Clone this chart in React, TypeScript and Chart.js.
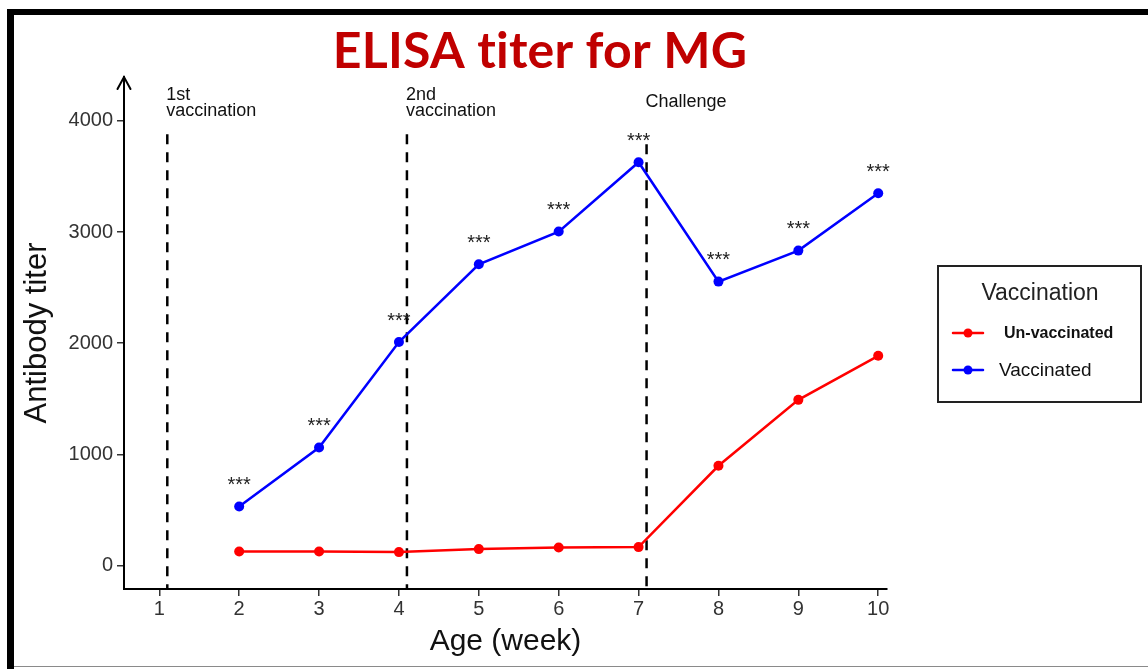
import React, { useEffect, useRef } from 'react';
import { Chart, registerables } from 'chart.js';

Chart.register(...registerables);

// ---- data ----
const weeks = [2, 3, 4, 5, 6, 7, 8, 9, 10];
const unvaccinated = [125, 125, 120, 147, 162, 165, 897, 1490, 1886];
const vaccinated = [531, 1061, 2010, 2710, 3004, 3628, 2554, 2833, 3349];
const significance = ['***', '***', '***', '***', '***', '***', '***', '***', '***'];
const xTicks = [1, 2, 3, 4, 5, 6, 7, 8, 9, 10];
const yTicks = [0, 1000, 2000, 3000, 4000];
const eventWeeks = [1.1, 4.1, 7.1];
const eventTops = [3880, 3880, 3790];
const eventLabels = [['1st', 'vaccination'], ['2nd', 'vaccination'], ['Challenge']];
const seriesNames = ['Un-vaccinated', 'Vaccinated'];
const seriesColors = ['#FF0000', '#0000FF'];
const titleText = 'ELISA titer for MG';
const legendTitle = 'Vaccination';
const xTitle = 'Age (week)';
const yTitle = 'Antibody titer';

const FONT = '"Liberation Sans", Arial, sans-serif';

export default function App() {
  const ref = useRef<HTMLCanvasElement>(null);

  useEffect(() => {
    document.body.style.margin = '0';
    const canvas = ref.current!;

    const framePlugin = {
      id: 'frame',
      beforeDraw(chart: any) {
        const ctx = chart.ctx;
        ctx.save();
        ctx.fillStyle = '#ffffff';
        ctx.fillRect(0, 0, chart.width, chart.height);
        ctx.fillStyle = '#000000';
        ctx.fillRect(7, 9, chart.width - 7, 6);
        ctx.fillRect(7, 9, 7, chart.height - 9);
        ctx.fillStyle = '#8a8a8a';
        ctx.fillRect(14, 666, chart.width - 14, 1);
        ctx.restore();
      },
    };

    const annotPlugin = {
      id: 'annot',
      afterDraw(chart: any) {
        const { ctx, chartArea, scales } = chart;
        const xs = scales.x;
        ctx.save();

        // title (letter spacing disables the "ti" ligature)
        ctx.fillStyle = '#C00000';
        ctx.font = 'bold 50px Lato, "Liberation Sans", sans-serif';
        ctx.textAlign = 'center';
        ctx.textBaseline = 'alphabetic';
        (ctx as any).letterSpacing = '0.2px';
        ctx.fillText(titleText, 540, 68);
        (ctx as any).letterSpacing = '0px';

        // arrow head on y axis
        ctx.strokeStyle = '#000';
        ctx.lineWidth = 2;
        ctx.lineCap = 'round';
        ctx.beginPath();
        ctx.moveTo(chartArea.left - 6.5, chartArea.top + 12);
        ctx.lineTo(chartArea.left, chartArea.top);
        ctx.lineTo(chartArea.left + 6.5, chartArea.top + 12);
        ctx.stroke();

        // event labels
        ctx.fillStyle = '#111';
        ctx.font = `18px ${FONT}`;
        ctx.textAlign = 'left';
        eventWeeks.forEach((w, i) => {
          const x = xs.getPixelForValue(w);
          const lines = eventLabels[i];
          const lastBase = chartArea.top + (lines.length > 1 ? 39 : 30);
          lines.forEach((t, j) => {
            ctx.fillText(t, x - 1, lastBase - (lines.length - 1 - j) * 16.5);
          });
        });

        // significance stars
        const meta = chart.getDatasetMeta(1);
        ctx.fillStyle = '#222';
        ctx.font = `20px ${FONT}`;
        ctx.textAlign = 'center';
        meta.data.forEach((pt: any, i: number) => {
          ctx.fillText(significance[i], pt.x, pt.y - 15.5);
        });

        // legend
        ctx.strokeStyle = '#222';
        ctx.lineWidth = 2;
        ctx.strokeRect(938, 266, 203, 136);
        ctx.fillStyle = '#222';
        ctx.font = `23px ${FONT}`;
        ctx.textAlign = 'center';
        ctx.fillText(legendTitle, 1040, 300);
        const itemY = [333, 370];
        seriesNames.forEach((name, i) => {
          const y = itemY[i];
          ctx.strokeStyle = seriesColors[i];
          ctx.lineWidth = 2.5;
          ctx.beginPath();
          ctx.moveTo(953, y);
          ctx.lineTo(983, y);
          ctx.stroke();
          ctx.fillStyle = seriesColors[i];
          ctx.beginPath();
          ctx.arc(968, y, 4.5, 0, Math.PI * 2);
          ctx.fill();
          ctx.fillStyle = '#111';
          ctx.textAlign = 'left';
          ctx.textBaseline = 'middle';
          if (i === 0) {
            ctx.font = `bold 16px ${FONT}`;
            ctx.fillText(name, 1004, y + 1);
          } else {
            ctx.font = `19px ${FONT}`;
            ctx.fillText(name, 999, y + 1);
          }
        });
        ctx.restore();
      },
    };

    const seriesData = [unvaccinated, vaccinated];
    const datasets: any[] = seriesNames.map((name, i) => ({
      label: name,
      data: weeks.map((w, j) => ({ x: w, y: seriesData[i][j] })),
      borderColor: seriesColors[i],
      backgroundColor: seriesColors[i],
      borderWidth: 2.5,
      pointRadius: 5,
      pointBorderWidth: 0,
      tension: 0,
    }));
    eventWeeks.forEach((w, i) => {
      datasets.push({
        label: 'event' + i,
        data: [
          { x: w, y: eventTops[i] },
          { x: w, y: -212 },
        ],
        borderColor: '#000',
        borderWidth: 2.5,
        borderDash: [10, 8],
        pointRadius: 0,
      });
    });

    const chart = new Chart(canvas, {
      type: 'line',
      data: { datasets },
      plugins: [framePlugin, annotPlugin],
      options: {
        animation: false,
        responsive: false,
        layout: { padding: { left: 15, top: 77, right: 261, bottom: 0 } },
        plugins: {
          legend: { display: false },
          tooltip: { enabled: false },
          title: { display: false },
        },
        scales: {
          x: {
            type: 'linear',
            min: 0.558,
            max: 10.11,
            afterBuildTicks(scale: any) {
              scale.ticks = xTicks.map((v) => ({ value: v }));
            },
            afterFit(scale: any) {
              scale.height = 80;
            },
            grid: { drawOnChartArea: false, drawTicks: true, tickLength: 7, color: '#333', lineWidth: 1.5 },
            border: { display: true, color: '#000', width: 2 },
            ticks: {
              font: { family: FONT, size: 20 },
              color: '#333',
              padding: 1,
              maxRotation: 0,
              autoSkip: false,
              callback: (v: any) => String(v),
            },
            title: {
              display: true,
              text: xTitle,
              font: { family: FONT, size: 30 },
              color: '#111',
              padding: { top: 0, bottom: 9.5 },
            },
          },
          y: {
            type: 'linear',
            min: -212,
            max: 4395,
            afterBuildTicks(scale: any) {
              scale.ticks = yTicks.map((v) => ({ value: v }));
            },
            afterFit(scale: any) {
              scale.width = 109;
            },
            grid: { drawOnChartArea: false, drawTicks: true, tickLength: 7, color: '#333', lineWidth: 1.5 },
            border: { display: true, color: '#000', width: 2 },
            ticks: {
              font: { family: FONT, size: 20 },
              color: '#333',
              padding: 4,
              autoSkip: false,
              callback: (v: any) => String(v),
            },
            title: {
              display: true,
              text: yTitle,
              font: { family: FONT, size: 31 },
              color: '#111',
              padding: { top: 4, bottom: 0 },
            },
          },
        },
      },
    });
    return () => chart.destroy();
  }, []);

  return (
    <div style={{ width: 1148, height: 669, position: 'relative' }}>
      <canvas ref={ref} width={1148} height={669} style={{ display: 'block', width: 1148, height: 669 }} />
    </div>
  );
}
